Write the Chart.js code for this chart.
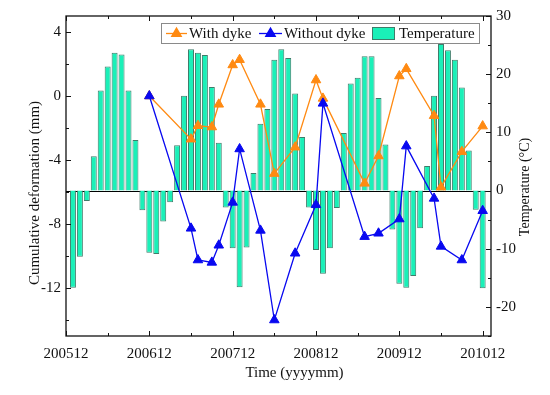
<!DOCTYPE html>
<html><head><meta charset="utf-8">
<script src="https://cdn.jsdelivr.net/npm/chart.js@4.4.1/dist/chart.umd.min.js"></script>
<style>html,body{margin:0;padding:0;background:#fff;}#wrap{width:550px;height:395px;}</style>
</head><body><div id="wrap"><canvas id="c" width="550" height="395"></canvas></div>
<script>
// ---------- data ----------
const tempMonths = [
 '200601','200602','200603','200604','200605','200606','200607','200608','200609','200610','200611','200612',
 '200701','200702','200703','200704','200705','200706','200707','200708','200709','200710','200711','200712',
 '200801','200802','200803','200804','200805','200806','200807','200808','200809','200810','200811','200812',
 '200901','200902','200903','200904','200905','200906','200907','200908','200909','200910','200911','200912',
 '201001','201002','201003','201004','201005','201006','201007','201008','201009','201010','201011','201012'];
const temperature = [
 -16.7,-11.4,-1.8,5.9,17.2,21.3,23.7,23.4,17.2,8.7,-3.4,-10.7,
 -10.9,-5.3,-2.0,7.8,16.3,24.3,23.7,23.3,17.8,8.2,-2.9,-9.9,
 -16.6,-9.8,3.0,11.5,14.0,22.5,24.3,22.8,16.7,9.2,-2.9,-10.2,
 -14.3,-9.9,-3.0,9.9,18.4,19.4,23.1,23.1,15.9,7.9,-6.7,-16.0,
 -16.7,-14.7,-6.5,4.2,16.3,25.2,24.1,22.5,17.7,6.9,-3.3,-16.8];
const deformMonths = ['200612','200706','200707','200709','200710','200712','200801','200804','200806','200809',
 '200812','200901','200907','200909','200912','201001','201005','201006','201009','201012'];
const withDyke = [0,-2.7,-1.86,-1.94,-0.52,1.94,2.27,-0.52,-4.85,-3.2,
 1.0,-0.15,-5.46,-3.75,1.25,1.7,-1.23,-5.7,-3.48,-1.88];
const withoutDyke = [0,-8.27,-10.25,-10.4,-9.33,-6.65,-3.31,-8.4,-14.0,-9.83,
 -6.8,-0.46,-8.79,-8.58,-7.69,-3.13,-6.4,-9.4,-10.25,-7.17];
const xTickLabels = ['200512','200612','200712','200812','200912','201012'];
const leftTicks = [-12,-8,-4,0,4];
const rightTicks = [-20,-10,0,10,20,30];

// ---------- helpers ----------
const FONT = '"Liberation Serif","Times New Roman",serif';
function monthIndex(s){ const y=+s.slice(0,4), m=+s.slice(4,6); return (y-2005)*12 + (m-12); }
const ORANGE = '#FF8A12', BLUE = '#0808F0', TEAL = '#1AF0B8', TEAL_EDGE = '#3E7C6A';

const overlay = {
  id:'overlay',
  beforeDatasetsDraw(chart){
    const {ctx, chartArea:a} = chart, y1 = chart.scales.y1;
    const y0 = Math.round(y1.getPixelForValue(0))+0.5;
    ctx.save(); ctx.strokeStyle='#000'; ctx.lineWidth=1.2;
    ctx.beginPath(); ctx.moveTo(a.left,y0); ctx.lineTo(a.right,y0); ctx.stroke(); ctx.restore();
  },
  afterDraw(chart){
    const {ctx, chartArea:a, scales} = chart;
    const x = scales.x, y = scales.y, y1 = scales.y1;
    ctx.save();
    ctx.strokeStyle='#111'; ctx.lineWidth=1.3;
    ctx.strokeRect(a.left, a.top, a.right-a.left, a.bottom-a.top);
    ctx.lineWidth=1;
    const MAJ=5, MIN=3;
    const xMaj = xTickLabels.map(monthIndex);
    const xMin = xMaj.slice(0,-1).map((v,i)=>(v+xMaj[i+1])/2);
    const drawX=(vals,len)=>vals.forEach(v=>{const px=Math.round(x.getPixelForValue(v))+0.5;
      ctx.beginPath(); ctx.moveTo(px,a.bottom); ctx.lineTo(px,a.bottom-len);
      ctx.moveTo(px,a.top); ctx.lineTo(px,a.top+len); ctx.stroke();});
    drawX(xMaj,MAJ); drawX(xMin,MIN);
    const lMin = leftTicks.map(v=>v-2);
    const drawL=(vals,len)=>vals.forEach(v=>{const py=Math.round(y.getPixelForValue(v))+0.5;
      ctx.beginPath(); ctx.moveTo(a.left,py); ctx.lineTo(a.left+len,py); ctx.stroke();});
    drawL(leftTicks,MAJ); drawL(lMin,MIN);
    const rMin = rightTicks.map(v=>v-5);
    const drawR=(vals,len)=>vals.forEach(v=>{const py=Math.round(y1.getPixelForValue(v))+0.5;
      ctx.beginPath(); ctx.moveTo(a.right,py); ctx.lineTo(a.right-len,py); ctx.stroke();});
    drawR(rightTicks,MAJ); drawR(rMin,MIN);

    // axis titles
    ctx.fillStyle='#111'; ctx.font='15px '+FONT; ctx.textAlign='center'; ctx.textBaseline='middle';
    ctx.fillText('Time (yyyymm)', (a.left+a.right)/2 + 16, 373);
    ctx.save(); ctx.translate(35,(a.top+a.bottom)/2+17); ctx.rotate(-Math.PI/2);
    ctx.fillText('Cumulative deformation (mm)',0,0); ctx.restore();
    ctx.save(); ctx.translate(525,(a.top+a.bottom)/2+11); ctx.rotate(-Math.PI/2);
    ctx.font='14px '+FONT;
    ctx.fillText('Temperature (\u00B0C)',0,0); ctx.restore();

    // legend
    const lx=161, ly=23, lw=318, lh=20;
    ctx.fillStyle='#fff'; ctx.fillRect(lx,ly,lw,lh);
    ctx.strokeStyle='#8a8a8a'; ctx.lineWidth=1; ctx.strokeRect(lx+0.5,ly+0.5,lw,lh);
    const cy = ly+lh/2+0.5;
    const ds = chart.data.datasets;
    ctx.textAlign='left'; ctx.font='15px '+FONT; ctx.fillStyle='#111';
    const lineItem=(d,x0,x1,tx)=>{
      ctx.strokeStyle=d.borderColor; ctx.lineWidth=1.3;
      ctx.beginPath(); ctx.moveTo(x0,cy); ctx.lineTo(x1,cy); ctx.stroke();
      ctx.fillStyle=d.borderColor;
      Chart.helpers.drawPoint(ctx,{pointStyle:'triangle',radius:5.5,borderWidth:1},(x0+x1)/2,cy);
      ctx.fillStyle='#111'; ctx.fillText(d.label,tx,cy+1);
    };
    lineItem(ds[0],166,187,189);
    lineItem(ds[1],259,282,284);
    ctx.fillStyle=TEAL; ctx.fillRect(372,27,22,12);
    ctx.strokeStyle=TEAL_EDGE; ctx.lineWidth=1; ctx.strokeRect(372.5,27.5,22,12);
    ctx.fillStyle='#111'; ctx.fillText(ds[2].label,399,cy+1);
    ctx.restore();
  }
};

const tickFont = {family:FONT, size:15};
const noGrid = {display:false, drawTicks:false, tickLength:0};
new Chart(document.getElementById('c'), {
  type:'bar',
  data:{ datasets:[
    {type:'line', label:'With dyke', yAxisID:'y', order:1,
     data: deformMonths.map((m,i)=>({x:monthIndex(m), y:withDyke[i]})),
     borderColor:ORANGE, backgroundColor:ORANGE, borderWidth:1.3,
     pointStyle:'triangle', pointRadius:5.5, pointBorderWidth:1, tension:0},
    {type:'line', label:'Without dyke', yAxisID:'y', order:0,
     data: deformMonths.map((m,i)=>({x:monthIndex(m), y:withoutDyke[i]})),
     borderColor:BLUE, backgroundColor:BLUE, borderWidth:1.3,
     pointStyle:'triangle', pointRadius:5.5, pointBorderWidth:1, tension:0},
    {type:'bar', label:'Temperature', yAxisID:'y1', order:2,
     data: tempMonths.map((m,i)=>({x:monthIndex(m), y:temperature[i]})),
     backgroundColor:TEAL, borderColor:TEAL_EDGE, borderWidth:1,
     barPercentage:0.86, categoryPercentage:1}
  ]},
  options:{
    responsive:false, animation:false,
    layout:{padding:{top:16,left:0,right:0,bottom:0}},
    plugins:{legend:{display:false}, tooltip:{enabled:false}},
    scales:{
      x:{type:'linear', min:0, max:61.2, offset:false,
         grid:noGrid, border:{display:false},
         afterBuildTicks:s=>{s.ticks = xTickLabels.map(l=>({value:monthIndex(l)}));},
         afterFit:s=>{s.height=59;},
         ticks:{font:tickFont, color:'#111', padding:9, maxRotation:0, autoSkip:false,
           callback:v=>{const i=xTickLabels.findIndex(l=>monthIndex(l)===v); return i>=0?xTickLabels[i]:'';}}},
      y:{type:'linear', position:'left', min:-15, max:5,
         grid:noGrid, border:{display:false},
         afterBuildTicks:s=>{s.ticks = leftTicks.map(v=>({value:v}));},
         afterFit:s=>{s.width=66;},
         ticks:{font:tickFont, color:'#111', padding:5}},
      y1:{type:'linear', position:'right', min:-25, max:30,
         grid:noGrid, border:{display:false},
         afterBuildTicks:s=>{s.ticks = rightTicks.map(v=>({value:v}));},
         afterFit:s=>{s.width=59;},
         ticks:{font:tickFont, color:'#111', padding:5}}
    }
  },
  plugins:[overlay]
});
</script>
</body></html>
